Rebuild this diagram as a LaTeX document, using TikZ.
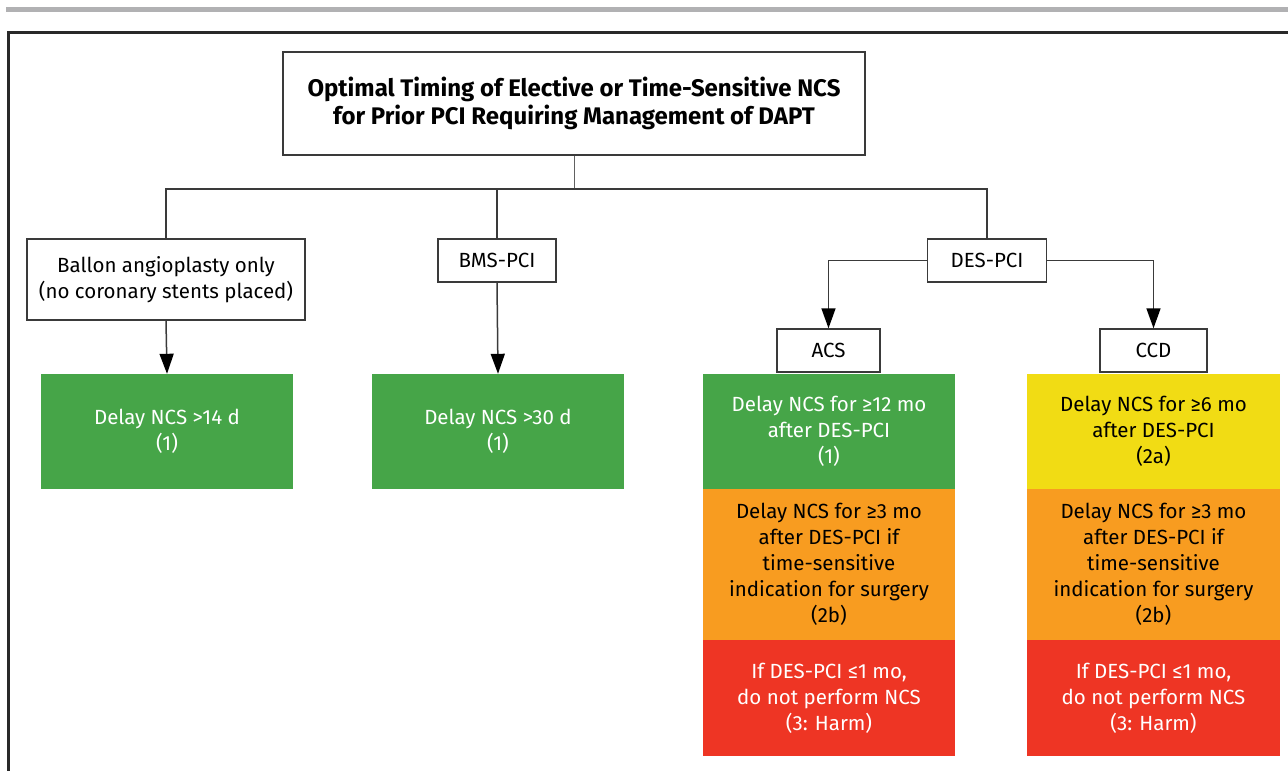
\documentclass[tikz,border=0pt]{standalone}
\usepackage{fontspec}
\setmainfont{Fira Sans}
\usetikzlibrary{arrows.meta}
\definecolor{cgreen}{HTML}{46A548}
\definecolor{cyellow}{HTML}{F1DC14}
\definecolor{corange}{HTML}{F89C20}
\definecolor{cred}{HTML}{EE3524}
\definecolor{cline}{HTML}{3A3A3A}
\definecolor{cbar}{HTML}{B1B1B3}
\begin{document}
\begin{tikzpicture}[x=1pt,y=-1pt,
  wbox/.style={draw=cline,line width=1.4pt,fill=white,inner sep=0pt,align=center,
     font=\fontsize{20.5}{26}\selectfont},
  cbox/.style={inner sep=0pt,align=center,minimum width=252pt,
     font=\fontsize{20.5}{26}\selectfont},
  conn/.style={draw=cline,line width=1.5pt},
  arr/.style={conn,-{Triangle[length=20pt,width=14pt,fill=black,color=black]}}]
\useasboundingbox (0,0) rectangle (1288,771);
% header bar and frame
\fill[cbar] (6,7) rectangle (1288,12);
\draw[cline!70!black,line width=3pt] (8,771) -- (8,32) -- (1288,32);
% title
\node[wbox,minimum width=582pt,minimum height=103pt,
  font=\fontsize{24}{27.5}\selectfont\bfseries] (t) at (574,103.5)
  {Optimal Timing of Elective or Time-Sensitive NCS\\for Prior PCI Requiring Management of DAPT};
% level 1
\node[wbox,minimum width=278pt,minimum height=81pt] (bal) at (166,279.5)
  {Ballon angioplasty only\\(no coronary stents placed)};
\node[wbox,minimum width=118pt,minimum height=43pt] (bms) at (497,260.5) {BMS-PCI};
\node[wbox,minimum width=119pt,minimum height=43pt] (des) at (987,260.5) {DES-PCI};
\coordinate (j) at (574,189);
\draw[conn,line width=1pt,draw=cline!80] (t.south) -- (j);
\draw[conn] (bal.north) -- (bal.north |- j) -- (des.north |- j) -- (des.north);
\draw[conn] (bms.north) -- (bms.north |- j);
% level 2
\node[wbox,minimum width=103pt,minimum height=43pt] (acs) at (828.5,350.5) {ACS};
\node[wbox,minimum width=107pt,minimum height=43pt] (ccd) at (1153.5,350.5) {CCD};
\draw[arr] (des.west) -| (acs.north);
\draw[arr] (des.east) -| (ccd.north);
% outcome boxes
\node[cbox,fill=cgreen,text=white,minimum height=115pt] (g1) at (167,431.5) {Delay NCS >14 d\\(1)};
\node[cbox,fill=cgreen,text=white,minimum height=115pt] (g2) at (498,431.5) {Delay NCS >30 d\\(1)};
\draw[arr] (bal.south) -- (g1.north);
\draw[arr] (bms.south) -- (g2.north);
\node[cbox,fill=cgreen,text=white,minimum height=115pt] (ag) at (829,431.5)
  {Delay NCS for ≥12 mo\\after DES-PCI\\(1)};
\node[cbox,fill=corange,text=black,minimum height=151pt] (ao) at (829,564.5)
  {Delay NCS for ≥3 mo\\after DES-PCI if\\time-sensitive\\indication for surgery\\(2b)};
\node[cbox,fill=cred,text=white,minimum height=116pt] (ar) at (829,698)
  {If DES-PCI ≤1 mo,\\do not perform NCS\\(3: Harm)};
\node[cbox,fill=cyellow,text=black,minimum height=115pt,minimum width=253pt] (cy) at (1153.5,431.5)
  {Delay NCS for ≥6 mo\\after DES-PCI\\(2a)};
\node[cbox,fill=corange,text=black,minimum height=151pt,minimum width=253pt] (co) at (1153.5,564.5)
  {Delay NCS for ≥3 mo\\after DES-PCI if\\time-sensitive\\indication for surgery\\(2b)};
\node[cbox,fill=cred,text=white,minimum height=116pt,minimum width=253pt] (cr) at (1153.5,698)
  {If DES-PCI ≤1 mo,\\do not perform NCS\\(3: Harm)};
\end{tikzpicture}
\end{document}
